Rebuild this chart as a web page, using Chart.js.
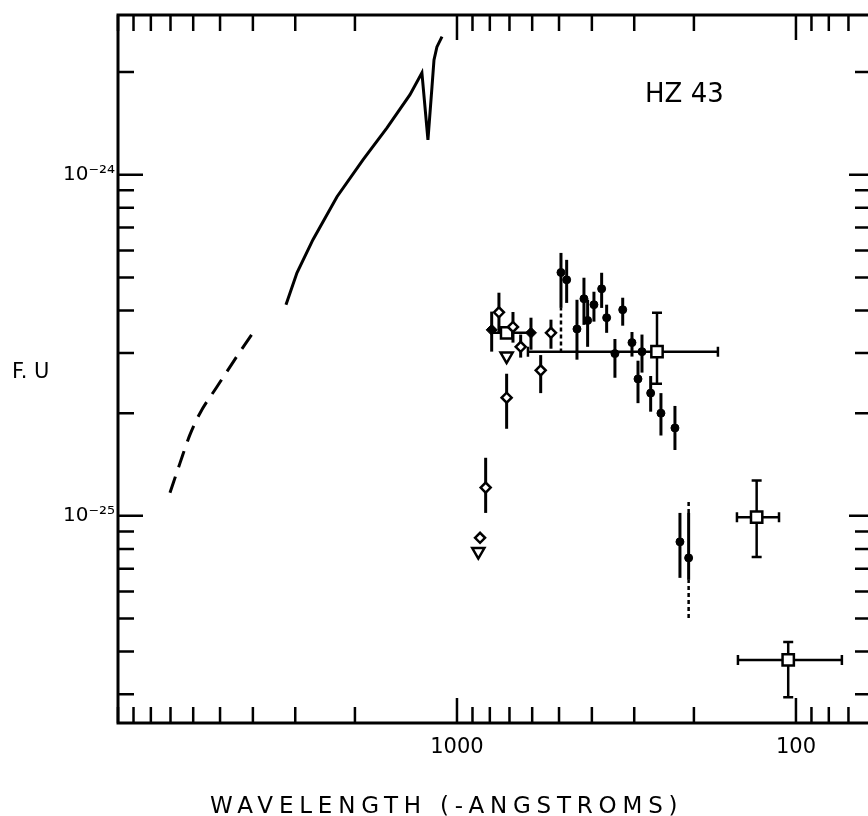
<!DOCTYPE html>
<html>
<head>
<meta charset="utf-8">
<script src="https://cdn.jsdelivr.net/npm/chart.js@4.4.0/dist/chart.umd.min.js"></script>
<style>
  html, body { margin: 0; padding: 0; background: #fff; overflow: hidden; }
  #wrap { width: 868px; height: 816px; }
</style>
</head>
<body>
<div id="wrap"><canvas id="myChart" width="868" height="816"></canvas></div>
<script>
// Axis ticks (wavelength in Angstroms, flux units)
const waveTicks = [10000, 9000, 8000, 7000, 6000, 5000, 4000, 3000, 2000, 1000, 900, 800, 700, 600, 500, 400, 300, 200, 100, 90, 80, 70];
const waveLabels = [1000, 100];
const fluxTicks = [2e-24, 1e-24, 9e-25, 8e-25, 7e-25, 6e-25, 5e-25, 4e-25, 3e-25, 2e-25, 1e-25, 9e-26, 8e-26, 7e-26, 6e-26, 5e-26, 4e-26, 3e-26];
const fluxLabels = [1e-24, 1e-25];

// Model spectrum (solid) and its extrapolation (dashed)
const modelWave = [3195, 2965, 2660, 2259, 1894, 1609, 1376, 1269, 1218, 1185, 1169, 1146, 1107];
const modelFlux = [4.16e-25, 5.16e-25, 6.45e-25, 8.62e-25, 1.106e-24, 1.373e-24, 1.717e-24, 1.991e-24, 1.266e-24, 1.81e-24, 2.17e-24, 2.37e-24, 2.54e-24];
const extWave = [7025, 6560, 6133, 5730, 5105, 4365, 3890];
const extFlux = [1.168e-25, 1.43e-25, 1.73e-25, 2.00e-25, 2.39e-25, 3.03e-25, 3.58e-25];

// Open diamonds
const openDiaWave = [752, 683.6, 648.8, 566.3, 713.7, 528.1, 823, 855];
const openDiaFlux = [3.95e-25, 3.58e-25, 3.13e-25, 2.67e-25, 2.22e-25, 3.44e-25, 1.21e-25, 8.62e-26];
const openDiaHi = [4.51e-25, 3.96e-25, 3.40e-25, 2.96e-25, 2.61e-25, 3.76e-25, 1.48e-25, null];
const openDiaLo = [3.46e-25, 3.22e-25, 2.91e-25, 2.29e-25, 1.80e-25, 3.09e-25, 1.02e-25, null];

// Filled diamonds
const fillDiaWave = [790, 604.9];
const fillDiaFlux = [3.51e-25, 3.44e-25];
const fillDiaHi = [3.97e-25, 3.81e-25];
const fillDiaLo = [3.03e-25, 3.07e-25];

// Filled circles
const circWave = [493.4, 474.7, 442.6, 422.1, 411.7, 394.4, 374.3, 361.8, 324.4, 342, 304.6, 284.6, 292.4, 268.3, 250.2, 227.5, 219.9, 207.3];
const circFlux = [5.17e-25, 4.92e-25, 3.53e-25, 4.33e-25, 3.74e-25, 4.16e-25, 4.63e-25, 3.81e-25, 4.02e-25, 2.99e-25, 3.22e-25, 3.03e-25, 2.52e-25, 2.29e-25, 2.00e-25, 1.81e-25, 8.39e-26, 7.53e-26];
const circHi = [5.90e-25, 5.63e-25, 4.30e-25, 4.99e-25, 4.30e-25, 4.54e-25, 5.16e-25, 4.16e-25, 4.36e-25, 3.30e-25, 3.46e-25, 3.40e-25, 2.85e-25, 2.57e-25, 2.29e-25, 2.10e-25, 1.02e-25, 1.02e-25];
const circLo = [4.07e-25, 4.21e-25, 2.87e-25, 3.63e-25, 3.13e-25, 3.71e-25, 4.07e-25, 3.44e-25, 3.61e-25, 2.54e-25, 2.93e-25, 2.63e-25, 2.14e-25, 2.02e-25, 1.72e-25, 1.56e-25, 6.58e-26, 6.49e-26];

// Dashed extensions of some error bars
const dashWave = [493.4, 207.3, 207.3];
const dashHi = [4.07e-25, 1.10e-25, 6.49e-26];
const dashLo = [3.01e-25, 1.02e-25, 5.02e-26];

// Open squares with both error bars
const sqWave = [713.7, 257, 130.6, 105.4];
const sqFlux = [3.44e-25, 3.03e-25, 9.91e-26, 3.78e-26];
const sqWaveHi = [790, 617.5, 149.3, 148.3];
const sqWaveLo = [605, 169.9, 112.2, 73.2];
const sqFluxHi = [null, 3.94e-25, 1.27e-25, 4.27e-26];
const sqFluxLo = [null, 2.44e-25, 7.58e-26, 2.94e-26];

// Upper limits (open triangles)
const limWave = [713.7, 865];
const limFlux = [2.94e-25, 7.86e-26];

const FONT = '"DejaVu Sans", "Liberation Sans", sans-serif';
const supMap = { '-': '\u207B', '0': '\u2070', '1': '\u00B9', '2': '\u00B2', '3': '\u00B3', '4': '\u2074', '5': '\u2075', '6': '\u2076', '7': '\u2077', '8': '\u2078', '9': '\u2079' };

function pts(xs, ys) {
    return xs.map((x, i) => ({ x: x, y: ys[i] }));
}
function isAmong(v, list) {
    return list.some(l => Math.abs(Math.log10(v) - Math.log10(l)) < 1e-6);
}

// error bars drawn through the chart scales
const errorBars = {
    id: 'errorBars',
    beforeDatasetsDraw(chart) {
        const c = chart.ctx, xs = chart.scales.x, ys = chart.scales.y;
        c.save();
        c.strokeStyle = '#000';
        c.lineCap = 'butt';
        function vbar(w, lo, hi, width, cap, dash) {
            if (lo == null || hi == null) return;
            const px = xs.getPixelForValue(w);
            const p1 = ys.getPixelForValue(lo), p2 = ys.getPixelForValue(hi);
            c.lineWidth = width;
            c.setLineDash(dash || []);
            c.beginPath(); c.moveTo(px, p1); c.lineTo(px, p2); c.stroke();
            if (cap) {
                c.setLineDash([]);
                c.beginPath();
                c.moveTo(px - cap, p1); c.lineTo(px + cap, p1);
                c.moveTo(px - cap, p2); c.lineTo(px + cap, p2);
                c.stroke();
            }
        }
        function hbar(f, w1, w2, width, cap) {
            const py = ys.getPixelForValue(f);
            const p1 = xs.getPixelForValue(w1), p2 = xs.getPixelForValue(w2);
            c.lineWidth = width;
            c.setLineDash([]);
            c.beginPath(); c.moveTo(p1, py); c.lineTo(p2, py); c.stroke();
            if (cap) {
                c.beginPath();
                c.moveTo(p1, py - cap); c.lineTo(p1, py + cap);
                c.moveTo(p2, py - cap); c.lineTo(p2, py + cap);
                c.stroke();
            }
        }
        openDiaWave.forEach((w, i) => vbar(w, openDiaLo[i], openDiaHi[i], 3));
        fillDiaWave.forEach((w, i) => vbar(w, fillDiaLo[i], fillDiaHi[i], 3));
        circWave.forEach((w, i) => vbar(w, circLo[i], circHi[i], 3));
        dashWave.forEach((w, i) => vbar(w, dashLo[i], dashHi[i], 2.5, 0, [4, 3]));
        sqWave.forEach((w, i) => {
            vbar(w, sqFluxLo[i], sqFluxHi[i], 2.5, 5);
            hbar(sqFlux[i], sqWaveHi[i], sqWaveLo[i], 2.5, i === 0 ? 0 : 5);
        });
        c.restore();
    }
};

// frame (right side runs off the page) with inward tick marks on all sides
const frameTicks = {
    id: 'frameTicks',
    afterDraw(chart) {
        const c = chart.ctx, a = chart.chartArea, xs = chart.scales.x, ys = chart.scales.y;
        c.save();
        c.strokeStyle = '#000';
        c.lineWidth = 3;
        c.lineCap = 'square';
        c.beginPath();
        c.moveTo(a.right + 2, a.top); c.lineTo(a.left, a.top);
        c.lineTo(a.left, a.bottom); c.lineTo(a.right + 2, a.bottom);
        c.stroke();
        c.lineCap = 'butt';
        c.lineWidth = 2.5;
        c.beginPath();
        waveTicks.forEach(w => {
            const px = xs.getPixelForValue(w);
            if (px < a.left - 1 || px > a.right + 1) return;
            const len = isAmong(w, waveLabels) ? 25 : 16;
            c.moveTo(px, a.bottom); c.lineTo(px, a.bottom - len);
            c.moveTo(px, a.top); c.lineTo(px, a.top + len);
        });
        fluxTicks.forEach(f => {
            const py = ys.getPixelForValue(f);
            if (py < a.top - 1 || py > a.bottom + 1) return;
            const major = isAmong(f, fluxLabels);
            c.moveTo(a.left, py); c.lineTo(a.left + (major ? 25 : 16), py);
            c.moveTo(a.right + 3, py); c.lineTo(a.right + 3 - (major ? 22 : 16), py);
        });
        c.stroke();

        // titles and the star name
        c.fillStyle = '#000';
        c.textBaseline = 'alphabetic';
        c.textAlign = 'left';
        c.font = '26px ' + FONT;
        c.fillText('HZ 43', 645, 102);
        c.font = '21px ' + FONT;
        c.fillText('F. U', 12, 378);
        c.font = '23px ' + FONT;
        c.letterSpacing = '5.8px';
        c.fillText('WAVELENGTH (-ANGSTROMS)', 210, 813);
        c.restore();
    }
};

const ctx = document.getElementById('myChart').getContext('2d');
const myChart = new Chart(ctx, {
    type: 'scatter',
    data: {
        datasets: [
            {
                data: pts(modelWave, modelFlux), showLine: true, borderColor: '#000',
                borderWidth: 3, pointRadius: 0, tension: 0
            },
            {
                data: pts(extWave, extFlux), showLine: true, borderColor: '#000',
                borderWidth: 3, pointRadius: 0, cubicInterpolationMode: 'monotone', borderDash: [17, 10]
            },
            {
                data: pts(openDiaWave, openDiaFlux), pointStyle: 'rectRot', pointRadius: 5,
                pointBackgroundColor: '#fff', pointBorderColor: '#000', pointBorderWidth: 2.5
            },
            {
                data: pts(fillDiaWave, fillDiaFlux), pointStyle: 'rectRot', pointRadius: 5.5,
                pointBackgroundColor: '#000', pointBorderColor: '#000', pointBorderWidth: 1
            },
            {
                data: pts(circWave, circFlux), pointStyle: 'circle', pointRadius: 4,
                pointBackgroundColor: '#000', pointBorderColor: '#000', pointBorderWidth: 1
            },
            {
                data: pts(sqWave, sqFlux), pointStyle: 'rect', pointRadius: 8,
                pointBackgroundColor: '#fff', pointBorderColor: '#000', pointBorderWidth: 2.5
            },
            {
                data: pts(limWave, limFlux), pointStyle: 'triangle', pointRotation: 180, pointRadius: 7,
                pointBackgroundColor: '#fff', pointBorderColor: '#000', pointBorderWidth: 2.5
            }
        ]
    },
    options: {
        responsive: false,
        animation: false,
        layout: { autoPadding: false, padding: { top: 15, right: 0, left: 0, bottom: 0 } },
        plugins: { legend: { display: false }, tooltip: { enabled: false } },
        scales: {
            x: {
                type: 'logarithmic',
                reverse: true,
                bounds: 'data',
                min: 61.3,
                max: 10000,
                grid: { display: false, drawTicks: false },
                border: { display: false },
                afterBuildTicks: s => { s.ticks = waveTicks.map(v => ({ value: v })); },
                afterFit: s => { s.height = 93; s.paddingLeft = 0; s.paddingRight = 0; },
                ticks: {
                    autoSkip: false, maxRotation: 0, padding: 12, color: '#000',
                    font: { family: FONT, size: 21 },
                    callback: v => isAmong(v, waveLabels) ? String(Math.round(v)) : ''
                }
            },
            y: {
                type: 'logarithmic',
                bounds: 'data',
                min: 2.47e-26,
                max: 2.94e-24,
                grid: { display: false, drawTicks: false },
                border: { display: false },
                afterBuildTicks: s => { s.ticks = fluxTicks.map(v => ({ value: v })); },
                afterFit: s => { s.width = 118; s.paddingTop = 0; s.paddingBottom = 0; },
                ticks: {
                    autoSkip: false, padding: 3, color: '#000',
                    font: { family: FONT, size: 20 },
                    callback: v => {
                        if (!isAmong(v, fluxLabels)) return '';
                        const e = String(Math.round(Math.log10(v)));
                        return '10' + e.split('').map(ch => supMap[ch]).join('');
                    }
                }
            }
        }
    },
    plugins: [errorBars, frameTicks]
});
</script>
</body>
</html>
